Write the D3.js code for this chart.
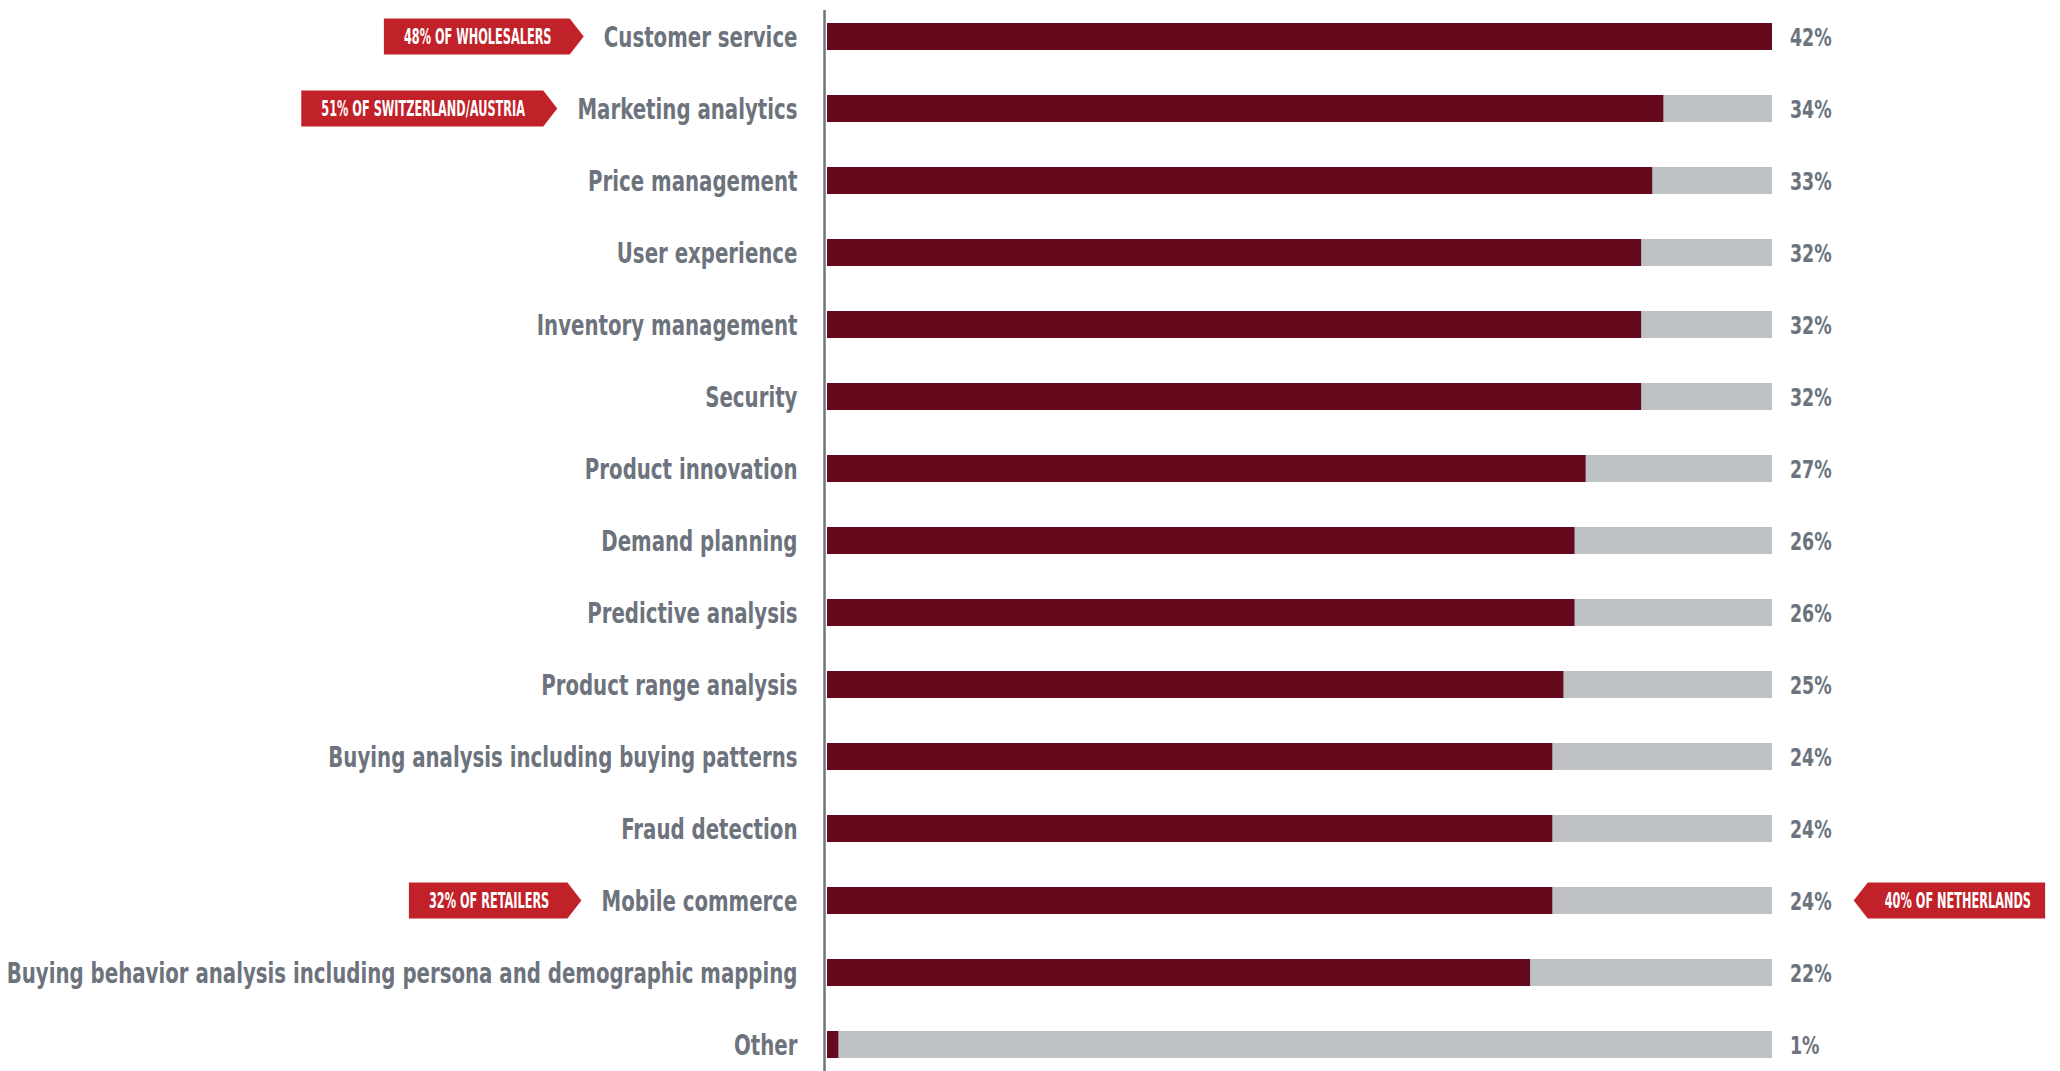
<!DOCTYPE html>
<html>
<head>
<meta charset="utf-8">
<script src="https://cdn.jsdelivr.net/npm/d3@7"></script>
<style>
  html, body { margin: 0; padding: 0; background: #ffffff; }
  svg { display: block; }
</style>
</head>
<body>
<svg id="chart" width="2060" height="1071"></svg>
<script>
// Share of respondents naming each area
const categories = [
  "Customer service",
  "Marketing analytics",
  "Price management",
  "User experience",
  "Inventory management",
  "Security",
  "Product innovation",
  "Demand planning",
  "Predictive analysis",
  "Product range analysis",
  "Buying analysis including buying patterns",
  "Fraud detection",
  "Mobile commerce",
  "Buying behavior analysis including persona and demographic mapping",
  "Other"
];
const values = [42, 34, 33, 32, 32, 32, 27, 26, 26, 25, 24, 24, 24, 22, 1];

// Segment highlights shown as red flags beside a row
const calloutCategories = ["Customer service", "Marketing analytics", "Mobile commerce", "Mobile commerce"];
const calloutTexts = ["48% OF WHOLESALERS", "51% OF SWITZERLAND/AUSTRIA", "32% OF RETAILERS", "40% OF NETHERLANDS"];
const calloutSides = ["left", "left", "left", "right"];

// Broken value axis: the range between 1 and 22 is compressed
const scaleBreaks = [0, 1, 22, 34, 42];
const breakFractions = [0, 0.012, 0.744, 0.885, 1];

const COLORS = {
  bar: "#65091d",
  track: "#bec2c5",
  text: "#6d737d",
  axis: "#6e737c",
  flag: "#c12129"
};
const FONT = "'Liberation Sans Narrow', 'DejaVu Sans Condensed', 'Arial Narrow', sans-serif";

const svg = d3.select("#chart");

const trackLeft = 827, trackRight = 1772, axisX = 824.5;

const x = d3.scaleLinear()
  .domain(scaleBreaks)
  .range(breakFractions.map(f => trackLeft + f * (trackRight - trackLeft)));

const y = d3.scaleBand()
  .domain(categories)
  .range([0.5, 1080.5])
  .paddingInner(0.625)
  .paddingOuter(0.3125);

const rows = categories.map((c, i) => ({ category: c, value: values[i] }));

// Narrow a text horizontally around its anchor point (tx, ty); returns the drawn width
function condense(node, tx, ty, factor) {
  const w = node.getComputedTextLength();
  d3.select(node)
    .attr("x", 0).attr("y", 0)
    .attr("transform", `translate(${tx},${ty}) scale(${factor},1)`);
  return w * factor;
}

// Background tracks
svg.append("g").selectAll("rect")
  .data(rows).join("rect")
  .attr("x", trackLeft)
  .attr("y", d => y(d.category))
  .attr("width", trackRight - trackLeft)
  .attr("height", y.bandwidth())
  .attr("fill", COLORS.track);

// Value bars
svg.append("g").selectAll("rect")
  .data(rows).join("rect")
  .attr("x", x(0))
  .attr("y", d => y(d.category))
  .attr("width", d => x(d.value) - x(0))
  .attr("height", y.bandwidth())
  .attr("fill", COLORS.bar);

// Category axis
const tickPad = 27;
const axisG = svg.append("g")
  .attr("transform", `translate(${axisX},0)`)
  .call(d3.axisLeft(y).tickSize(0).tickPadding(tickPad));
axisG.select(".domain").remove();
const tickLabelStart = {};
axisG.selectAll(".tick text")
  .attr("dy", "0.37em")
  .attr("fill", COLORS.text)
  .style("font-family", FONT)
  .style("font-weight", "bold")
  .style("font-size", "28px")
  .each(function (d) {
    const w = condense(this, -tickPad, 0, 0.785);
    tickLabelStart[d] = axisX - tickPad - w;
  });

svg.append("line")
  .attr("x1", axisX).attr("x2", axisX)
  .attr("y1", 10).attr("y2", 1071)
  .attr("stroke", COLORS.axis)
  .attr("stroke-width", 2.5);

// Value labels
const labelX = 1790;
const valueLabelEnd = {};
svg.append("g").selectAll("text")
  .data(rows).join("text")
  .attr("dy", "0.37em")
  .attr("fill", COLORS.text)
  .style("font-family", FONT)
  .style("font-weight", "bold")
  .style("font-size", "25.5px")
  .text(d => `${d.value}%`)
  .each(function (d) {
    const w = condense(this, labelX, y(d.category) + y.bandwidth() / 2, 0.76);
    valueLabelEnd[d.category] = labelX + w;
  });

// Callout flags
const flagH = 36, tip = 14;
const flags = svg.append("g");
calloutTexts.forEach((txt, i) => {
  const cat = calloutCategories[i];
  const cy = y(cat) + y.bandwidth() / 2;
  const g = flags.append("g");
  const path = g.append("path").attr("fill", COLORS.flag);
  const t = g.append("text")
    .attr("dy", "0.37em")
    .attr("fill", "#ffffff")
    .style("font-family", FONT)
    .style("font-weight", "bold")
    .style("font-size", "21px")
    .text(txt);
  const factor = 0.6;
  const tw = t.node().getComputedTextLength() * factor;
  const top = cy - flagH / 2, bot = cy + flagH / 2;
  if (calloutSides[i] === "left") {
    const point = tickLabelStart[cat] - 20;
    const body = point - tip;
    const textEnd = body - 18;
    const textStart = textEnd - tw;
    const left = textStart - 20;
    condense(t.node(), textStart, cy, factor);
    path.attr("d", `M${left},${top}H${body}L${point},${cy}L${body},${bot}H${left}Z`);
  } else {
    const point = valueLabelEnd[cat] + 22;
    const body = point + tip;
    const textStart = body + 17;
    const right = textStart + tw + 14;
    condense(t.node(), textStart, cy, factor);
    path.attr("d", `M${point},${cy}L${body},${top}H${right}V${bot}H${body}Z`);
  }
});
</script>
</body>
</html>
